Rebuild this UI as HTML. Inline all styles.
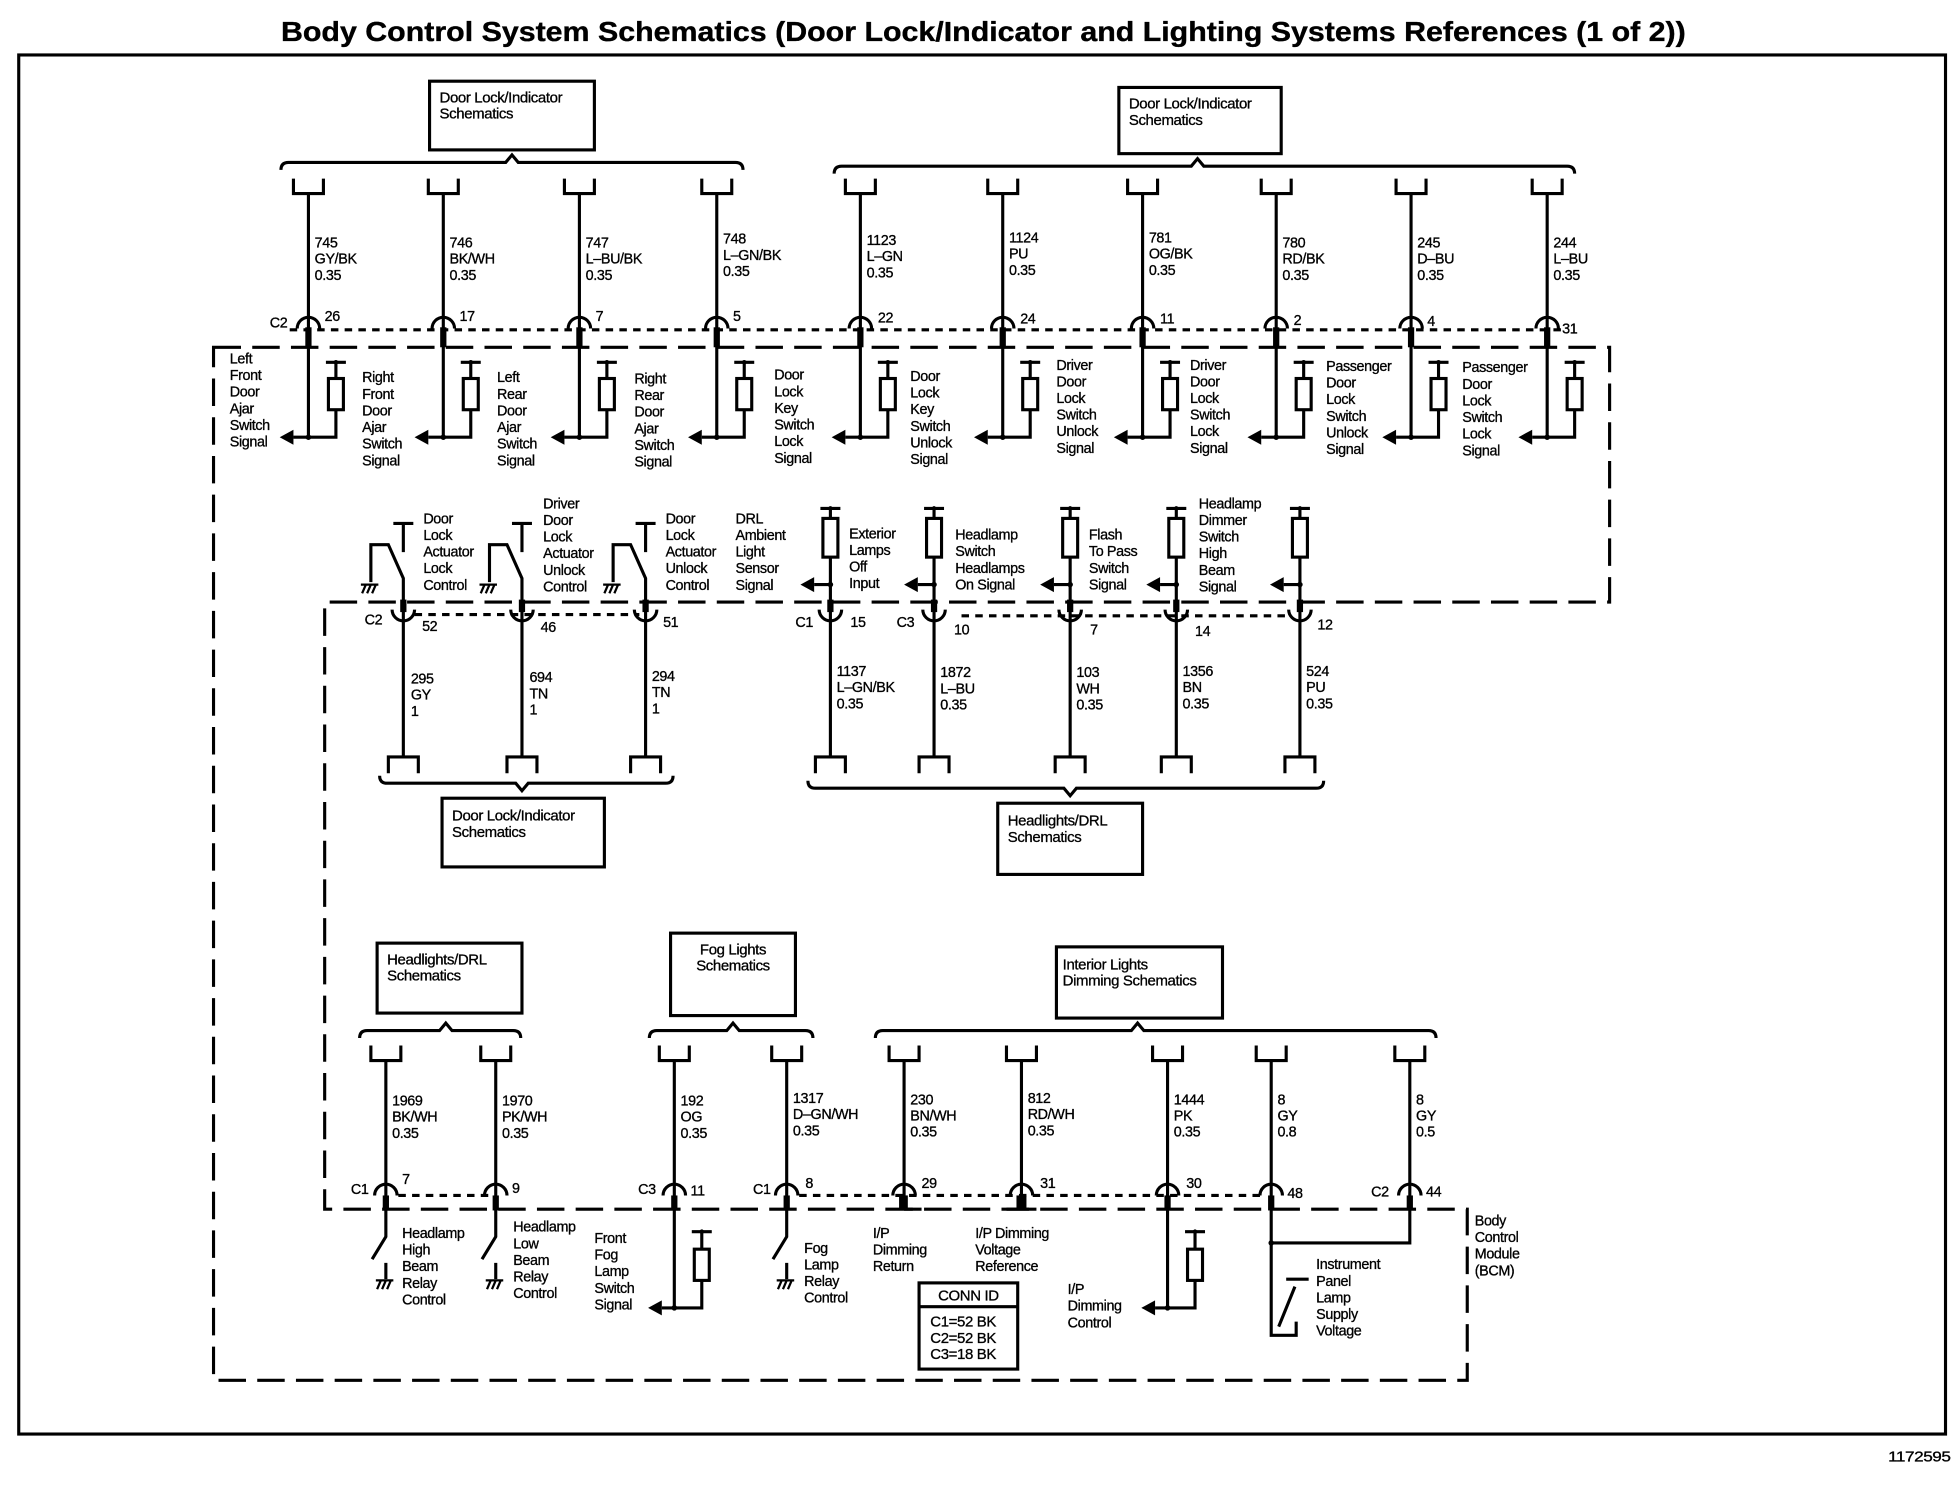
<!DOCTYPE html>
<html><head><meta charset="utf-8"><style>
html,body{margin:0;padding:0;background:#fff;}
svg{display:block;}
text{font-family:"Liberation Sans",Arial,sans-serif;font-size:11.5px;fill:#000;stroke:#000;stroke-width:0.25;letter-spacing:-0.3px;}
.t{font-size:22px;font-weight:bold;stroke-width:0.3;letter-spacing:0;}
.b{font-size:12px;}
.ln{fill:none;stroke:#000;stroke-width:2.5;}
.th{fill:none;stroke:#000;stroke-width:1.8;}
.dash{fill:none;stroke:#000;stroke-width:2.5;stroke-dasharray:22,9;}
.dot{fill:none;stroke:#000;stroke-width:2.5;stroke-dasharray:6,5;}
</style></head><body>
<svg width="1958" height="1504" viewBox="0 0 1568 1204" preserveAspectRatio="none" xmlns="http://www.w3.org/2000/svg">
<defs>
<g id="top">
 <path class="ln" d="M-12,143 V155 H12 V143"/>
 <path class="ln" d="M0,155 V350"/>
 <rect x="-2.5" y="262" width="5" height="16"/>
 <path class="ln" d="M-9,263 A9,9 0 0 1 9,263"/>
 <path class="ln" d="M14,290 H30 M22,290 V303 M22,328 V350 H0 M-12,350 H0"/>
 <rect x="16" y="303" width="12" height="25" class="ln"/>
 <circle cx="0" cy="350" r="2.2"/><circle cx="22" cy="290" r="1.8"/>
 <polygon points="-23,350 -12,344 -12,356"/>
</g>
<g id="gnd">
 <path class="th" d="M-7,0 H7 M-6,7 L-3,0 M-2,7 L1,0 M2,7 L5,0"/>
</g>
<g id="act">
 <path class="ln" d="M0,606 V463 L-12,436 H-26 V466"/>
 <path class="ln" d="M-8,419 H8 M0,419 V442"/>
 <use href="#gnd" x="-27" y="468"/>
 <rect x="-2.5" y="480" width="5" height="10"/>
 <path class="ln" d="M-9,488 A9,9 0 0 0 9,488"/>
 <path class="ln" d="M-12,619 V606 H12 V619"/>
</g>
<g id="hl">
 <path class="ln" d="M-8,407 H8 M0,407 V415 M0,446 V606 M-13,468 H0"/>
 <rect x="-6" y="415" width="12" height="31" class="ln"/>
 <circle cx="0" cy="468" r="2.2"/><circle cx="0" cy="407" r="1.8"/>
 <polygon points="-24,468 -13,462 -13,474"/>
 <rect x="-2.5" y="480" width="5" height="10"/>
 <path class="ln" d="M-9,488 A9,9 0 0 0 9,488"/>
 <path class="ln" d="M-12,619 V606 H12 V619"/>
</g>
<g id="bot">
 <path class="ln" d="M-12,837 V849 H12 V837 M0,849 V957"/>
 <path class="ln" d="M-9,957 A9,9 0 0 1 9,957"/>
 <rect x="-2.5" y="957" width="5" height="12"/>
</g>
<g id="relay">
 <path class="ln" d="M0,968 V990 L-11,1008 M0,1011 V1024"/>
 <use href="#gnd" x="-1" y="1025"/>
</g>
<g id="resarrow">
 <path class="ln" d="M0,968 V1047 M14,986 H30 M22,986 V1000 M22,1025 V1047 H0 M-10,1047 H0"/>
 <rect x="16" y="1000" width="12" height="25" class="ln"/>
 <circle cx="0" cy="1047" r="2.2"/><circle cx="22" cy="986" r="1.8"/>
 <polygon points="-21,1047 -10,1041 -10,1053"/>
</g>
</defs>

<text class="t" x="225" y="33" textLength="1125" lengthAdjust="spacingAndGlyphs">Body Control System Schematics (Door Lock/Indicator and Lighting Systems References (1 of 2))</text>
<rect x="15" y="44" width="1543" height="1104" class="ln"/>
<text x="1512" y="1170" textLength="50" lengthAdjust="spacingAndGlyphs">1172595</text>

<!-- BCM dashed outline -->
<path class="dash" d="M171,278 H1289 V482 H260 V968 H1175 V1105 H171 Z"/>

<!-- top boxes & braces -->
<rect x="344" y="65" width="132" height="55" class="ln"/>
<text class="b" x="352" y="82"><tspan x="352">Door Lock/Indicator</tspan><tspan x="352" dy="13">Schematics</tspan></text>
<path class="ln" d="M225,136 Q225,130 231,130 H405 L410,124 L415,130 H589 Q595,130 595,136"/>
<rect x="896" y="70" width="130" height="53" class="ln"/>
<text class="b" x="904" y="87"><tspan x="904">Door Lock/Indicator</tspan><tspan x="904" dy="13">Schematics</tspan></text>
<path class="ln" d="M668,139 Q668,133 674,133 H954 L959,127 L964,133 H1255 Q1261,133 1261,139"/>

<path class="dot" d="M232,264 H1252"/>
<use href="#top" x="247"/><use href="#top" x="355"/><use href="#top" x="464"/><use href="#top" x="574"/><use href="#top" x="689"/>
<use href="#top" x="803"/><use href="#top" x="915"/><use href="#top" x="1022"/><use href="#top" x="1130"/><use href="#top" x="1239"/>

<text x="252" y="198"><tspan x="252">745</tspan><tspan x="252" dy="13">GY/BK</tspan><tspan x="252" dy="13">0.35</tspan></text>
<text x="360" y="198"><tspan x="360">746</tspan><tspan x="360" dy="13">BK/WH</tspan><tspan x="360" dy="13">0.35</tspan></text>
<text x="469" y="198"><tspan x="469">747</tspan><tspan x="469" dy="13">L–BU/BK</tspan><tspan x="469" dy="13">0.35</tspan></text>
<text x="579" y="195"><tspan x="579">748</tspan><tspan x="579" dy="13">L–GN/BK</tspan><tspan x="579" dy="13">0.35</tspan></text>
<text x="694" y="196"><tspan x="694">1123</tspan><tspan x="694" dy="13">L–GN</tspan><tspan x="694" dy="13">0.35</tspan></text>
<text x="808" y="194"><tspan x="808">1124</tspan><tspan x="808" dy="13">PU</tspan><tspan x="808" dy="13">0.35</tspan></text>
<text x="920" y="194"><tspan x="920">781</tspan><tspan x="920" dy="13">OG/BK</tspan><tspan x="920" dy="13">0.35</tspan></text>
<text x="1027" y="198"><tspan x="1027">780</tspan><tspan x="1027" dy="13">RD/BK</tspan><tspan x="1027" dy="13">0.35</tspan></text>
<text x="1135" y="198"><tspan x="1135">245</tspan><tspan x="1135" dy="13">D–BU</tspan><tspan x="1135" dy="13">0.35</tspan></text>
<text x="1244" y="198"><tspan x="1244">244</tspan><tspan x="1244" dy="13">L–BU</tspan><tspan x="1244" dy="13">0.35</tspan></text>

<text x="216" y="262">C2</text>
<text x="260" y="257">26</text><text x="368" y="257">17</text><text x="477" y="257">7</text><text x="587" y="257">5</text>
<text x="703" y="258">22</text><text x="817" y="259">24</text><text x="929" y="259">11</text><text x="1036" y="260">2</text>
<text x="1143" y="261">4</text><text x="1251" y="267">31</text>

<text x="184" y="291"><tspan x="184">Left</tspan><tspan x="184" dy="13.3">Front</tspan><tspan x="184" dy="13.3">Door</tspan><tspan x="184" dy="13.3">Ajar</tspan><tspan x="184" dy="13.3">Switch</tspan><tspan x="184" dy="13.3">Signal</tspan></text>
<text x="290" y="306"><tspan x="290">Right</tspan><tspan x="290" dy="13.3">Front</tspan><tspan x="290" dy="13.3">Door</tspan><tspan x="290" dy="13.3">Ajar</tspan><tspan x="290" dy="13.3">Switch</tspan><tspan x="290" dy="13.3">Signal</tspan></text>
<text x="398" y="306"><tspan x="398">Left</tspan><tspan x="398" dy="13.3">Rear</tspan><tspan x="398" dy="13.3">Door</tspan><tspan x="398" dy="13.3">Ajar</tspan><tspan x="398" dy="13.3">Switch</tspan><tspan x="398" dy="13.3">Signal</tspan></text>
<text x="508" y="307"><tspan x="508">Right</tspan><tspan x="508" dy="13.3">Rear</tspan><tspan x="508" dy="13.3">Door</tspan><tspan x="508" dy="13.3">Ajar</tspan><tspan x="508" dy="13.3">Switch</tspan><tspan x="508" dy="13.3">Signal</tspan></text>
<text x="620" y="304"><tspan x="620">Door</tspan><tspan x="620" dy="13.3">Lock</tspan><tspan x="620" dy="13.3">Key</tspan><tspan x="620" dy="13.3">Switch</tspan><tspan x="620" dy="13.3">Lock</tspan><tspan x="620" dy="13.3">Signal</tspan></text>
<text x="729" y="305"><tspan x="729">Door</tspan><tspan x="729" dy="13.3">Lock</tspan><tspan x="729" dy="13.3">Key</tspan><tspan x="729" dy="13.3">Switch</tspan><tspan x="729" dy="13.3">Unlock</tspan><tspan x="729" dy="13.3">Signal</tspan></text>
<text x="846" y="296"><tspan x="846">Driver</tspan><tspan x="846" dy="13.3">Door</tspan><tspan x="846" dy="13.3">Lock</tspan><tspan x="846" dy="13.3">Switch</tspan><tspan x="846" dy="13.3">Unlock</tspan><tspan x="846" dy="13.3">Signal</tspan></text>
<text x="953" y="296"><tspan x="953">Driver</tspan><tspan x="953" dy="13.3">Door</tspan><tspan x="953" dy="13.3">Lock</tspan><tspan x="953" dy="13.3">Switch</tspan><tspan x="953" dy="13.3">Lock</tspan><tspan x="953" dy="13.3">Signal</tspan></text>
<text x="1062" y="297"><tspan x="1062">Passenger</tspan><tspan x="1062" dy="13.3">Door</tspan><tspan x="1062" dy="13.3">Lock</tspan><tspan x="1062" dy="13.3">Switch</tspan><tspan x="1062" dy="13.3">Unlock</tspan><tspan x="1062" dy="13.3">Signal</tspan></text>
<text x="1171" y="298"><tspan x="1171">Passenger</tspan><tspan x="1171" dy="13.3">Door</tspan><tspan x="1171" dy="13.3">Lock</tspan><tspan x="1171" dy="13.3">Switch</tspan><tspan x="1171" dy="13.3">Lock</tspan><tspan x="1171" dy="13.3">Signal</tspan></text>

<!-- row 2 -->
<path class="dot" d="M332,492 H512 M770,493 H1034"/>
<use href="#act" x="323"/><use href="#act" x="418"/><use href="#act" x="517"/>
<use href="#hl" x="665"/><use href="#hl" x="748"/><use href="#hl" x="857"/><use href="#hl" x="942"/><use href="#hl" x="1041"/>

<text x="339" y="419"><tspan x="339">Door</tspan><tspan x="339" dy="13.3">Lock</tspan><tspan x="339" dy="13.3">Actuator</tspan><tspan x="339" dy="13.3">Lock</tspan><tspan x="339" dy="13.3">Control</tspan></text>
<text x="435" y="407"><tspan x="435">Driver</tspan><tspan x="435" dy="13.3">Door</tspan><tspan x="435" dy="13.3">Lock</tspan><tspan x="435" dy="13.3">Actuator</tspan><tspan x="435" dy="13.3">Unlock</tspan><tspan x="435" dy="13.3">Control</tspan></text>
<text x="533" y="419"><tspan x="533">Door</tspan><tspan x="533" dy="13.3">Lock</tspan><tspan x="533" dy="13.3">Actuator</tspan><tspan x="533" dy="13.3">Unlock</tspan><tspan x="533" dy="13.3">Control</tspan></text>
<text x="589" y="419"><tspan x="589">DRL</tspan><tspan x="589" dy="13.3">Ambient</tspan><tspan x="589" dy="13.3">Light</tspan><tspan x="589" dy="13.3">Sensor</tspan><tspan x="589" dy="13.3">Signal</tspan></text>
<text x="680" y="431"><tspan x="680">Exterior</tspan><tspan x="680" dy="13.3">Lamps</tspan><tspan x="680" dy="13.3">Off</tspan><tspan x="680" dy="13.3">Input</tspan></text>
<text x="765" y="432"><tspan x="765">Headlamp</tspan><tspan x="765" dy="13.3">Switch</tspan><tspan x="765" dy="13.3">Headlamps</tspan><tspan x="765" dy="13.3">On Signal</tspan></text>
<text x="872" y="432"><tspan x="872">Flash</tspan><tspan x="872" dy="13.3">To Pass</tspan><tspan x="872" dy="13.3">Switch</tspan><tspan x="872" dy="13.3">Signal</tspan></text>
<text x="960" y="407"><tspan x="960">Headlamp</tspan><tspan x="960" dy="13.3">Dimmer</tspan><tspan x="960" dy="13.3">Switch</tspan><tspan x="960" dy="13.3">High</tspan><tspan x="960" dy="13.3">Beam</tspan><tspan x="960" dy="13.3">Signal</tspan></text>

<text x="292" y="500">C2</text><text x="338" y="505">52</text><text x="433" y="506">46</text><text x="531" y="502">51</text>
<text x="637" y="502">C1</text><text x="681" y="502">15</text><text x="718" y="502">C3</text><text x="764" y="508">10</text>
<text x="873" y="508">7</text><text x="957" y="509">14</text><text x="1055" y="504">12</text>

<text x="329" y="547"><tspan x="329">295</tspan><tspan x="329" dy="13">GY</tspan><tspan x="329" dy="13">1</tspan></text>
<text x="424" y="546"><tspan x="424">694</tspan><tspan x="424" dy="13">TN</tspan><tspan x="424" dy="13">1</tspan></text>
<text x="522" y="545"><tspan x="522">294</tspan><tspan x="522" dy="13">TN</tspan><tspan x="522" dy="13">1</tspan></text>
<text x="670" y="541"><tspan x="670">1137</tspan><tspan x="670" dy="13">L–GN/BK</tspan><tspan x="670" dy="13">0.35</tspan></text>
<text x="753" y="542"><tspan x="753">1872</tspan><tspan x="753" dy="13">L–BU</tspan><tspan x="753" dy="13">0.35</tspan></text>
<text x="862" y="542"><tspan x="862">103</tspan><tspan x="862" dy="13">WH</tspan><tspan x="862" dy="13">0.35</tspan></text>
<text x="947" y="541"><tspan x="947">1356</tspan><tspan x="947" dy="13">BN</tspan><tspan x="947" dy="13">0.35</tspan></text>
<text x="1046" y="541"><tspan x="1046">524</tspan><tspan x="1046" dy="13">PU</tspan><tspan x="1046" dy="13">0.35</tspan></text>

<path class="ln" d="M304,621 Q304,627 310,627 H413 L418,633 L423,627 H533 Q539,627 539,621"/>
<rect x="354" y="639" width="130" height="55" class="ln"/>
<text class="b" x="362" y="657"><tspan x="362">Door Lock/Indicator</tspan><tspan x="362" dy="13">Schematics</tspan></text>
<path class="ln" d="M647,625 Q647,631 653,631 H852 L857,637 L862,631 H1054 Q1060,631 1060,625"/>
<rect x="799" y="643" width="116" height="57" class="ln"/>
<text class="b" x="807" y="661"><tspan x="807">Headlights/DRL</tspan><tspan x="807" dy="13">Schematics</tspan></text>

<!-- bottom section -->
<rect x="302" y="755" width="116" height="56" class="ln"/>
<text class="b" x="310" y="772"><tspan x="310">Headlights/DRL</tspan><tspan x="310" dy="13">Schematics</tspan></text>
<rect x="537" y="747" width="100" height="66" class="ln"/>
<text class="b" x="587" y="764" text-anchor="middle"><tspan x="587">Fog Lights</tspan><tspan x="587" dy="13">Schematics</tspan></text>
<rect x="846" y="758" width="133" height="57" class="ln"/>
<text class="b" x="851" y="776"><tspan x="851">Interior Lights</tspan><tspan x="851" dy="13">Dimming Schematics</tspan></text>
<path class="ln" d="M288,831 Q288,825 294,825 H352 L357,819 L362,825 H411 Q417,825 417,831"/>
<path class="ln" d="M520,831 Q520,825 526,825 H582 L587,819 L592,825 H645 Q651,825 651,831"/>
<path class="ln" d="M701,831 Q701,825 707,825 H906 L911,819 L916,825 H1144 Q1150,825 1150,831"/>

<path class="dot" d="M319,957 H392 M640,957 H1013"/>
<use href="#bot" x="309"/><use href="#bot" x="397"/><use href="#bot" x="540"/><use href="#bot" x="630"/><use href="#bot" x="724"/>
<use href="#bot" x="818"/><use href="#bot" x="935"/><use href="#bot" x="1018"/><use href="#bot" x="1129"/>
<use href="#relay" x="309"/><use href="#relay" x="397"/><use href="#relay" x="630"/>
<use href="#resarrow" x="540"/><use href="#resarrow" x="935"/>
<rect x="720" y="957" width="7" height="12"/><path class="ln" d="M724,968 H738"/>
<rect x="814" y="957" width="8" height="12"/><path class="ln" d="M806,968 H830"/>
<path class="ln" d="M1018,968 V1069 H1038 V1058 M1024,1062 L1037,1030 M1030,1024 H1048 M1018,995 H1129 V968"/>
<circle cx="1018" cy="995" r="2.2"/>

<text x="314" y="885"><tspan x="314">1969</tspan><tspan x="314" dy="13">BK/WH</tspan><tspan x="314" dy="13">0.35</tspan></text>
<text x="402" y="885"><tspan x="402">1970</tspan><tspan x="402" dy="13">PK/WH</tspan><tspan x="402" dy="13">0.35</tspan></text>
<text x="545" y="885"><tspan x="545">192</tspan><tspan x="545" dy="13">OG</tspan><tspan x="545" dy="13">0.35</tspan></text>
<text x="635" y="883"><tspan x="635">1317</tspan><tspan x="635" dy="13">D–GN/WH</tspan><tspan x="635" dy="13">0.35</tspan></text>
<text x="729" y="884"><tspan x="729">230</tspan><tspan x="729" dy="13">BN/WH</tspan><tspan x="729" dy="13">0.35</tspan></text>
<text x="823" y="883"><tspan x="823">812</tspan><tspan x="823" dy="13">RD/WH</tspan><tspan x="823" dy="13">0.35</tspan></text>
<text x="940" y="884"><tspan x="940">1444</tspan><tspan x="940" dy="13">PK</tspan><tspan x="940" dy="13">0.35</tspan></text>
<text x="1023" y="884"><tspan x="1023">8</tspan><tspan x="1023" dy="13">GY</tspan><tspan x="1023" dy="13">0.8</tspan></text>
<text x="1134" y="884"><tspan x="1134">8</tspan><tspan x="1134" dy="13">GY</tspan><tspan x="1134" dy="13">0.5</tspan></text>

<text x="281" y="956">C1</text><text x="322" y="948">7</text><text x="410" y="955">9</text>
<text x="511" y="956">C3</text><text x="553" y="957">11</text><text x="603" y="956">C1</text><text x="645" y="951">8</text>
<text x="738" y="951">29</text><text x="833" y="951">31</text><text x="950" y="951">30</text><text x="1031" y="959">48</text>
<text x="1098" y="958">C2</text><text x="1142" y="958">44</text>

<text x="322" y="991"><tspan x="322">Headlamp</tspan><tspan x="322" dy="13.3">High</tspan><tspan x="322" dy="13.3">Beam</tspan><tspan x="322" dy="13.3">Relay</tspan><tspan x="322" dy="13.3">Control</tspan></text>
<text x="411" y="986"><tspan x="411">Headlamp</tspan><tspan x="411" dy="13.3">Low</tspan><tspan x="411" dy="13.3">Beam</tspan><tspan x="411" dy="13.3">Relay</tspan><tspan x="411" dy="13.3">Control</tspan></text>
<text x="476" y="995"><tspan x="476">Front</tspan><tspan x="476" dy="13.3">Fog</tspan><tspan x="476" dy="13.3">Lamp</tspan><tspan x="476" dy="13.3">Switch</tspan><tspan x="476" dy="13.3">Signal</tspan></text>
<text x="644" y="1003"><tspan x="644">Fog</tspan><tspan x="644" dy="13.3">Lamp</tspan><tspan x="644" dy="13.3">Relay</tspan><tspan x="644" dy="13.3">Control</tspan></text>
<text x="699" y="991"><tspan x="699">I/P</tspan><tspan x="699" dy="13.3">Dimming</tspan><tspan x="699" dy="13.3">Return</tspan></text>
<text x="781" y="991"><tspan x="781">I/P Dimming</tspan><tspan x="781" dy="13.3">Voltage</tspan><tspan x="781" dy="13.3">Reference</tspan></text>
<text x="855" y="1036"><tspan x="855">I/P</tspan><tspan x="855" dy="13.3">Dimming</tspan><tspan x="855" dy="13.3">Control</tspan></text>
<text x="1054" y="1016"><tspan x="1054">Instrument</tspan><tspan x="1054" dy="13.3">Panel</tspan><tspan x="1054" dy="13.3">Lamp</tspan><tspan x="1054" dy="13.3">Supply</tspan><tspan x="1054" dy="13.3">Voltage</tspan></text>
<text x="1181" y="981"><tspan x="1181">Body</tspan><tspan x="1181" dy="13.3">Control</tspan><tspan x="1181" dy="13.3">Module</tspan><tspan x="1181" dy="13.3">(BCM)</tspan></text>

<rect x="736" y="1027" width="79" height="69" class="ln"/>
<path class="ln" d="M736,1046 H815"/>
<text class="b" x="775.5" y="1041" text-anchor="middle">CONN ID</text>
<text class="b" x="745" y="1062"><tspan x="745">C1=52 BK</tspan><tspan x="745" dy="13">C2=52 BK</tspan><tspan x="745" dy="13">C3=18 BK</tspan></text>
</svg>
</body></html>
